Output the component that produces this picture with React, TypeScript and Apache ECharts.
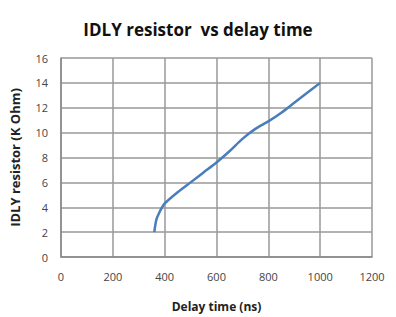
import React, { useEffect, useRef } from "react";
import * as echarts from "echarts";

const delayNs = [360, 368, 380, 390, 400, 450, 500, 550, 600, 650, 700, 750, 800, 850, 900, 950, 1000];
const resistorKOhm = [2.0, 3.0, 3.6, 4.0, 4.3, 5.2, 6.0, 6.8, 7.6, 8.5, 9.5, 10.3, 10.9, 11.6, 12.4, 13.2, 14.0];
const titleText = "IDLY resistor  vs delay time";
const xName = "Delay time (ns)";
const yName = "IDLY resistor (K Ohm)";

export default function App() {
  const ref = useRef<HTMLDivElement>(null);
  useEffect(() => {
    document.body.style.margin = "0";
    const chart = echarts.init(ref.current!, undefined, { renderer: "svg" });
    const font = "'Open Sans', 'DejaVu Sans', sans-serif";
    chart.setOption({
      animation: false,
      backgroundColor: "#ffffff",
      title: {
        text: titleText,
        left: "center",
        top: 16,
        textStyle: { fontFamily: font, fontSize: 17, fontWeight: "bold", color: "#111" },
      },
      grid: { left: 61, right: 24, top: 58, bottom: 60 },
      xAxis: {
        type: "value",
        min: 0,
        max: 1200,
        interval: 200,
        name: xName,
        nameLocation: "middle",
        nameGap: 43,
        nameTextStyle: { fontFamily: font, fontSize: 12, fontWeight: "bold", color: "#222" },
        axisLine: { show: true, lineStyle: { color: "#888", width: 1.5 } },
        axisTick: { show: false },
        axisLabel: { fontFamily: font, fontSize: 11, color: "#444", margin: 14, formatter: (v: number) => String(v) },
        splitLine: { show: true, lineStyle: { color: "#999", width: 1.5 } },
      },
      yAxis: {
        type: "value",
        min: 0,
        max: 16,
        interval: 2,
        name: yName,
        nameLocation: "middle",
        nameGap: 40,
        nameTextStyle: { fontFamily: font, fontSize: 13, fontWeight: "bold", color: "#222" },
        axisLine: { show: true, lineStyle: { color: "#888", width: 1.5 } },
        axisTick: { show: false },
        axisLabel: { fontFamily: font, fontSize: 11, color: "#444", margin: 13 },
        splitLine: { show: true, lineStyle: { color: "#999", width: 1.5 } },
      },
      series: [
        {
          type: "line",
          data: delayNs.map((x, i) => [x, resistorKOhm[i]]),
          smooth: 0.3,
          showSymbol: false,
          lineStyle: { color: "#4a7ebb", width: 2.5 },
        },
      ],
    });
    return () => chart.dispose();
  }, []);
  return <div ref={ref} style={{ width: 396, height: 317 }} />;
}
